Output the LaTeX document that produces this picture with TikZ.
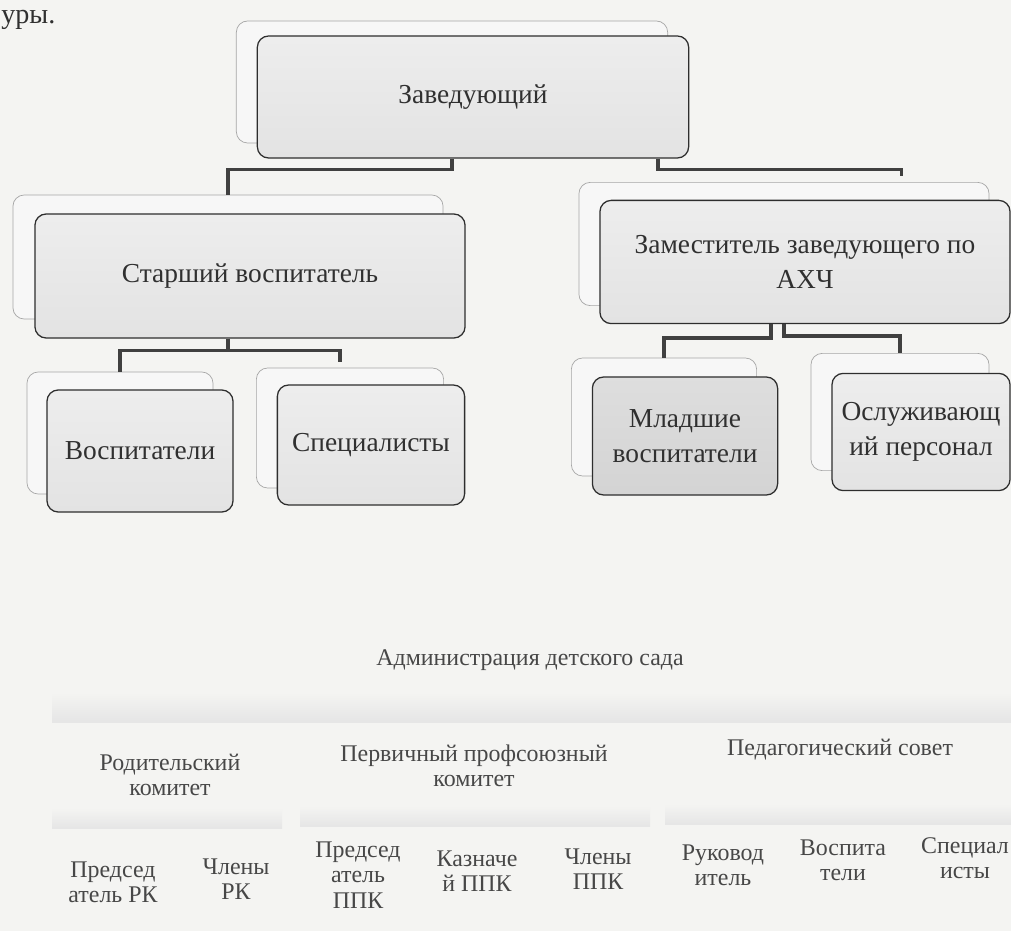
\documentclass[tikz,border=0pt]{standalone}
\usepackage{fontspec}
\setmainfont{Liberation Serif}
\usetikzlibrary{positioning}
\definecolor{ink}{HTML}{303030}
\definecolor{paper}{HTML}{F4F4F2}

\begin{document}
\begin{tikzpicture}[
    x=0.025cm, y=-0.025cm,
    backbox/.style={draw=black!35, fill=white!97!black, rounded corners=8pt, line width=0.5pt},
    box/.style={draw=black!82, top color=black!7, bottom color=black!11, rounded corners=8pt,
      line width=0.9pt, font=\fontsize{19.5}{25}\selectfont, text=ink, align=center},
    link/.style={draw=black!75, line width=2.6pt},
    lbl/.style={font=\fontsize{17}{18}\selectfont, text=black!72, align=center},
    band/.style={top color=paper, bottom color=black!10, draw=none}
    ]
    \useasboundingbox (0,0) rectangle (1011,931);
    \clip (0,0) rectangle (1011,931);
    \fill[paper] (0,0) rectangle (1011,931);
    \node[anchor=base west, font=\fontsize{20}{24}\selectfont, text=ink, inner sep=0pt] (tail) at (1,24) {уры.};

    % back boxes
    \node[backbox, minimum width=10.78cm, minimum height=3.05cm] (zavB) at (452,82) {};
    \node[backbox, minimum width=10.75cm, minimum height=3.1cm] (starB) at (228,257) {};
    \node[backbox, minimum width=10.25cm, minimum height=3.08cm] (zamB) at (784,244) {};
    \node[backbox, minimum width=4.65cm, minimum height=3.05cm] (vospB) at (120,433) {};
    \node[backbox, minimum width=4.68cm, minimum height=3cm] (specB) at (350,428) {};
    \node[backbox, minimum width=4.63cm, minimum height=2.95cm] (mladB) at (664,417) {};
    \node[backbox, minimum width=4.45cm, minimum height=2.93cm] (oslB) at (900,412) {};

    % front boxes
    \node[box, minimum width=10.78cm, minimum height=3.05cm] (zav) at ([shift={(21,15)}]zavB.center) {Заведующий};
    \node[box, minimum width=10.75cm, minimum height=3.1cm] (star) at ([shift={(22,19)}]starB.center) {Старший воспитатель};
    \node[box, minimum width=10.25cm, minimum height=3.08cm] (zam) at ([shift={(21,18)}]zamB.center) {Заместитель заведующего по\\АХЧ};
    \node[box, minimum width=4.65cm, minimum height=3.05cm] (vosp) at ([shift={(20,18)}]vospB.center) {Воспитатели};
    \node[box, minimum width=4.68cm, minimum height=3cm] (spec) at ([shift={(21,17)}]specB.center) {Специалисты};
    \node[box, minimum width=4.63cm, minimum height=2.95cm, top color=black!13, bottom color=black!17] (mlad) at ([shift={(21,19)}]mladB.center) {Младшие\\воспитатели};
    \node[box, minimum width=4.45cm, minimum height=2.93cm] (osl) at ([shift={(21,20)}]oslB.center) {Ослуживающ\\ий персонал};

    % connectors
    \draw[link] (zav.south -| zavB) -- ++(0,11) -| (starB.north);
    \draw[link] ([shift={(-31,0)}]zav.south east) -- ++(0,11) -| ([shift={(-88,-6)}]zamB.north east);
    \draw[link] (star.south -| starB) -- ++(0,12) -| (vospB.north);
    \draw[link] (star.south -| starB) -- ++(0,12) -| ([shift={(-10,-6)}]specB.north);
    \draw[link] ([shift={(-13,0)}]zam.south -| zamB) -- ++(0,14) -| (mladB.north);
    \draw[link] (zam.south -| zamB) -- ++(0,12) -| (oslB.north);

    % faded lower part
    \fill[band] (52,692) rectangle (1011,722);
    \fill[band] (52,808) rectangle (282,828);
    \fill[band] (300,806) rectangle (650,826);
    \fill[band] (665,804) rectangle (1011,824);

    \node[lbl] (adm) at (530,660) {Администрация детского сада};
    \node[lbl] (rod) at (170,775) {Родительский\\комитет};
    \node[lbl] (perv) at (474,766) {Первичный профсоюзный\\комитет};
    \node[lbl] (ped) at (840,750) {Педагогический совет};
    \node[lbl] (predRK) at (113,882) {Председ\\атель РК};
    \node[lbl] (chlRK) at (236,879) {Члены\\РК};
    \node[lbl] (predPPK) at (358,875) {Председ\\атель\\ППК};
    \node[lbl] (kazPPK) at (477,871) {Казначе\\й ППК};
    \node[lbl] (chlPPK) at (598,869) {Члены\\ППК};
    \node[lbl] (ruk) at (723,865) {Руковод\\итель};
    \node[lbl] (vospPS) at (843,860) {Воспита\\тели};
    \node[lbl] (specPS) at (965,858) {Специал\\исты};
\end{tikzpicture}
\end{document}
